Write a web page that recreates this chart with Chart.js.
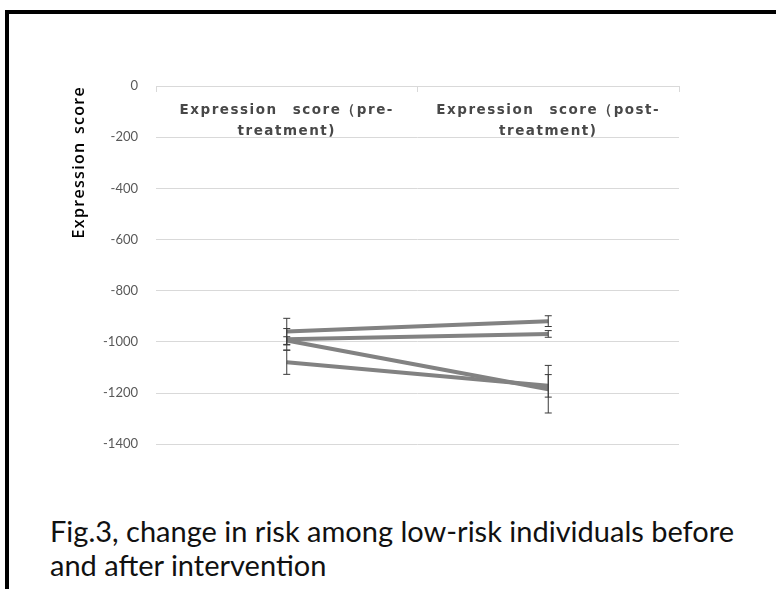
<!DOCTYPE html>
<html lang="en">
<head>
  <meta charset="UTF-8" />
  <title>Fig.3</title>
  <script src="https://cdn.jsdelivr.net/npm/chart.js"></script>
  <style>
    html, body {
      margin: 0;
      padding: 0;
      background: #fff;
      width: 776px;
      height: 589px;
      overflow: hidden;
    }
    .frame {
      position: absolute;
      left: 5px;
      top: 10px;
      width: 780px;
      height: 600px;
      border-left: 4px solid #000;
      border-top: 4px solid #000;
    }
    .chart-box {
      position: absolute;
      left: 0;
      top: 0;
      width: 776px;
      height: 470px;
    }
    .caption {
      position: absolute;
      left: 50px;
      top: 514px;
      font-family: Lato, sans-serif;
      font-size: 29px;
      line-height: 34px;
      color: #111;
    }
  </style>
</head>
<body>
  <div class="frame"></div>
  <div class="chart-box"><canvas id="scoreChart" width="776" height="470"></canvas></div>
  <div class="caption">Fig.3, change in risk among low-risk individuals before<br>and after intervention</div>

  <script>
    const categories = [["Expression score（pre-", "treatment)"], ["Expression score（post-", "treatment)"]];
    const yTicks = [0, -200, -400, -600, -800, -1000, -1200, -1400];

    // one row per individual: [pre, post]
    const person1 = [-960, -919];
    const person2 = [-990, -969];
    const person3 = [-995, -1185];
    const person4 = [-1080, -1172];

    const person1Err = [52, 21];
    const person2Err = [42, 13];
    const person3Err = [15, 93];
    const person4Err = [47, 44];

    const series = [person1, person2, person3, person4];
    const errors = [person1Err, person2Err, person3Err, person4Err];

    // the original labels are set quite loose, so widen the spacing on a scale's text
    function spaceOut(scale, fn, letter, word) {
      if (scale["_spaced_" + fn]) return;
      const orig = scale[fn];
      scale[fn] = function (...args) {
        const ctx = this.ctx;
        ctx.save();
        ctx.letterSpacing = letter;
        ctx.wordSpacing = word;
        orig.apply(this, args);
        ctx.restore();
      };
      scale["_spaced_" + fn] = true;
    }

    const spacedText = {
      id: "spacedText",
      beforeDraw(chart) {
        spaceOut(chart.scales.x, "drawLabels", "1.5px", "9px");
        spaceOut(chart.scales.y, "drawTitle", "1.3px", "2px");
      }
    };

    // draws the error bars on top of the lines
    const errorBars = {
      id: "errorBars",
      afterDatasetsDraw(chart) {
        const ctx = chart.ctx;
        const y = chart.scales.y;
        ctx.save();
        ctx.strokeStyle = "#3a3a3a";
        ctx.lineWidth = 1;
        chart.data.datasets.forEach((ds, i) => {
          const meta = chart.getDatasetMeta(i);
          meta.data.forEach((pt, j) => {
            const top = y.getPixelForValue(ds.data[j] + errors[i][j]);
            const bot = y.getPixelForValue(ds.data[j] - errors[i][j]);
            ctx.beginPath();
            ctx.moveTo(pt.x, top);
            ctx.lineTo(pt.x, bot);
            ctx.moveTo(pt.x - 3.5, top);
            ctx.lineTo(pt.x + 3.5, top);
            ctx.moveTo(pt.x - 3.5, bot);
            ctx.lineTo(pt.x + 3.5, bot);
            ctx.stroke();
          });
        });
        ctx.restore();
      }
    };

    new Chart(document.getElementById("scoreChart"), {
      type: "line",
      data: {
        labels: categories,
        datasets: series.map((vals, i) => ({
          label: "Individual " + (i + 1),
          data: vals,
          borderColor: "#828282",
          borderWidth: 4,
          pointRadius: 0,
          tension: 0
        }))
      },
      options: {
        responsive: false,
        animation: false,
        events: [],
        layout: {
          padding: { left: 66, top: 86, right: 97, bottom: 22 }
        },
        plugins: {
          legend: { display: false },
          tooltip: { enabled: false }
        },
        scales: {
          x: {
            position: { y: 0 },
            offset: true,
            grid: {
              offset: true,
              drawOnChartArea: false,
              tickLength: 5,
              color: "#d9d9d9"
            },
            border: { color: "#d9d9d9" },
            ticks: {
              padding: 9,
              maxRotation: 0,
              autoSkip: false,
              color: "#484848",
              font: { family: "'DejaVu Sans'", size: 13.5, weight: "bold", lineHeight: 1.55 }
            }
          },
          y: {
            min: -1400,
            max: 0,
            afterFit(scale) { scale.width = 90; },
            afterBuildTicks(scale) { scale.ticks = yTicks.map(v => ({ value: v })); },
            border: { display: false },
            grid: { color: "#d9d9d9", drawTicks: false },
            ticks: {
              padding: 18,
              color: "#595959",
              font: { family: "Lato", size: 13 },
              callback: v => String(v)
            },
            title: {
              display: true,
              text: "Expression score",
              align: "end",
              color: "#000",
              padding: { top: 4, bottom: 0 },
              font: { family: "'Open Sans'", size: 16, weight: "600" }
            }
          }
        }
      },
      plugins: [spacedText, errorBars]
    });
  </script>
</body>
</html>
